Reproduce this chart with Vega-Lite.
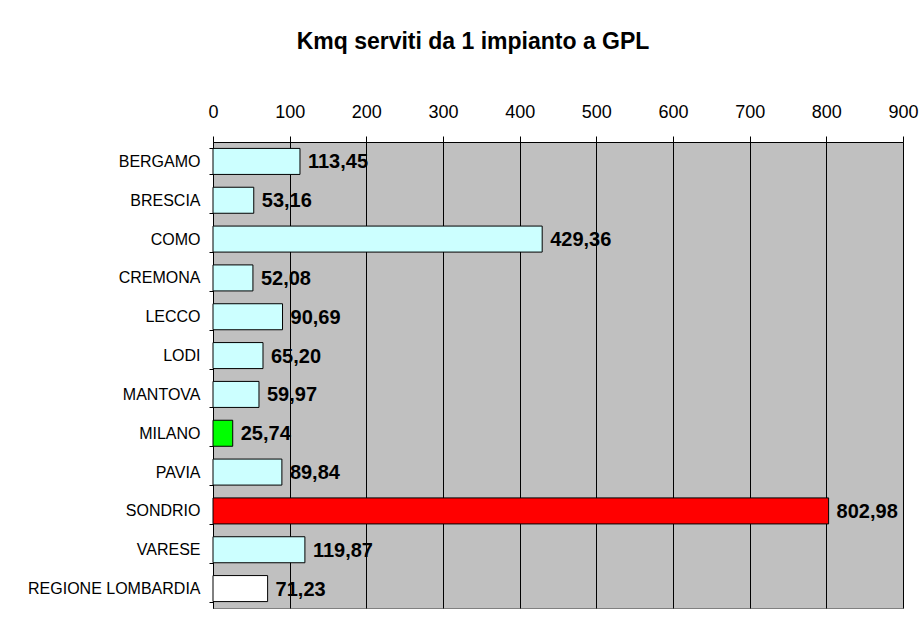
{
  "$schema": "https://vega.github.io/schema/vega-lite/v6.json",
  "autosize": {"type": "none"},
  "width": 690,
  "height": 466,
  "padding": {"left": 213, "top": 142, "right": 19, "bottom": 10},
  "background": "white",
  "title": {
    "text": "Kmq serviti da 1 impianto a GPL",
    "anchor": "middle",
    "frame": "group",
    "dx": -85,
    "baseline": "alphabetic",
    "offset": 31,
    "font": "Liberation Sans",
    "fontSize": 23,
    "fontWeight": "bold",
    "color": "black"
  },
  "config": {
    "locale": {"number": {"decimal": ",", "thousands": ".", "grouping": [3], "currency": ["€", ""]}},
    "view": {"fill": "#C0C0C0", "stroke": "#808080", "strokeWidth": 1},
    "font": "Liberation Sans"
  },
  "data": {
    "values": [
      {"provincia": "BERGAMO", "kmq": 113.45, "tipo": "provincia"},
      {"provincia": "BRESCIA", "kmq": 53.16, "tipo": "provincia"},
      {"provincia": "COMO", "kmq": 429.36, "tipo": "provincia"},
      {"provincia": "CREMONA", "kmq": 52.08, "tipo": "provincia"},
      {"provincia": "LECCO", "kmq": 90.69, "tipo": "provincia"},
      {"provincia": "LODI", "kmq": 65.20, "tipo": "provincia"},
      {"provincia": "MANTOVA", "kmq": 59.97, "tipo": "provincia"},
      {"provincia": "MILANO", "kmq": 25.74, "tipo": "minimo"},
      {"provincia": "PAVIA", "kmq": 89.84, "tipo": "provincia"},
      {"provincia": "SONDRIO", "kmq": 802.98, "tipo": "massimo"},
      {"provincia": "VARESE", "kmq": 119.87, "tipo": "provincia"},
      {"provincia": "REGIONE LOMBARDIA", "kmq": 71.23, "tipo": "regione"}
    ]
  },
  "encoding": {
    "y": {
      "field": "provincia",
      "type": "nominal",
      "sort": null,
      "scale": {"paddingInner": 0.33, "paddingOuter": 0.165},
      "axis": {
        "title": null,
        "orient": "left",
        "tickBand": "extent",
        "tickSize": 4,
        "tickColor": "black",
        "domainColor": "black",
        "labelFont": "Liberation Sans",
        "labelFontSize": 16,
        "labelColor": "black",
        "labelPadding": 9,
        "labelLimit": 300
      }
    }
  },
  "layer": [
    {
      "mark": {"type": "bar", "stroke": "black", "strokeWidth": 1},
      "encoding": {
        "x": {
          "field": "kmq",
          "type": "quantitative",
          "scale": {"domain": [0, 900], "nice": false},
          "axis": {
            "title": null,
            "orient": "top",
            "values": [0, 100, 200, 300, 400, 500, 600, 700, 800, 900],
            "format": "d",
            "grid": true,
            "gridColor": "black",
            "gridOpacity": 1,
            "gridWidth": 1,
            "tickSize": 6,
            "tickColor": "black",
            "domainColor": "black",
            "labelFont": "Liberation Sans",
            "labelFontSize": 18,
            "labelColor": "black",
            "labelPadding": 15,
            "labelFlush": false,
            "labelOverlap": false
          }
        },
        "fill": {
          "field": "tipo",
          "type": "nominal",
          "scale": {"domain": ["provincia", "minimo", "massimo", "regione"], "range": ["#CCFFFF", "#00FF00", "#FF0000", "#FFFFFF"]},
          "legend": null
        }
      }
    },
    {
      "mark": {"type": "text", "align": "left", "baseline": "middle", "dx": 8, "dy": 1, "font": "Liberation Sans", "fontSize": 20, "fontWeight": "bold", "color": "black"},
      "encoding": {
        "x": {"field": "kmq", "type": "quantitative"},
        "text": {"field": "kmq", "type": "quantitative", "format": ".2f"}
      }
    }
  ]
}
